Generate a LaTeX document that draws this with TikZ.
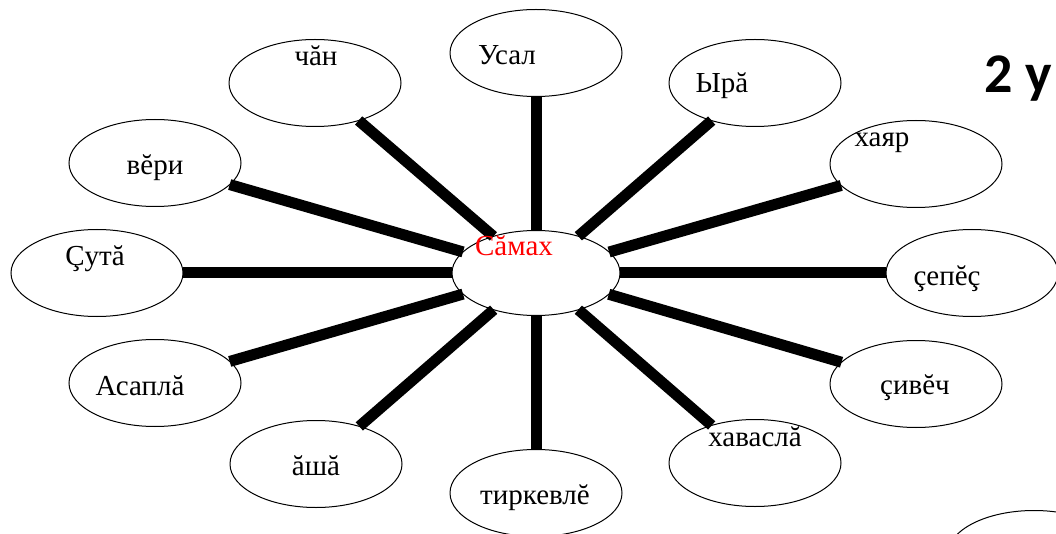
\documentclass[tikz,border=0pt]{standalone}
\usepackage{fontspec}
\setmainfont{Liberation Serif}
\newfontfamily\headfont{Carlito}
\usetikzlibrary{calc}
\usetikzlibrary{shapes.geometric}
\definecolor{wordred}{HTML}{FF0000}

\begin{document}
\begin{tikzpicture}[x=1pt,y=-1pt,
oval/.style = {ellipse, draw, line width=1pt, fill=white,
  minimum width=172pt, minimum height=87pt, inner sep=0pt, outer sep=0pt},
hub/.style = {oval, minimum width=168pt, minimum height=85pt},
word/.style = {anchor=base, inner sep=0pt, font=\fontsize{29}{32}\selectfont},
spoke/.style = {line width=11pt, color=black}
]
\useasboundingbox (0,0) rectangle (1056,534);
\clip (0,0) rectangle (1056,534);

\coordinate (c) at (536,273);
\node [hub] (samah) at (c) {};

\node [oval] (usal) at ($ (c) + (0,-220) $) {};
\node [oval] (yra) at ($ (c) + (219,-190) $) {};
\node [oval] (hayar) at ($ (c) + (380,-109) $) {};
\node [oval] (sepes) at ($ (c) + (436,0) $) {};
\node [oval] (sivech) at ($ (c) + (380,111) $) {};
\node [oval] (havasla) at ($ (c) + (219,190) $) {};
\node [oval] (tirkevle) at ($ (c) + (0,220) $) {};
\node [oval] (asha) at ($ (c) + (-220,191) $) {};
\node [oval] (asapla) at ($ (c) + (-381,110) $) {};
\node [oval] (suta) at ($ (c) + (-439,0) $) {};
\node [oval] (veri) at ($ (c) + (-381,-110) $) {};
\node [oval] (chan) at ($ (c) + (-221,-190) $) {};
\node [oval] (spare) at (1034,554) {};

\draw [spoke] (samah) -- (usal);
\draw [spoke] (samah) -- (yra);
\draw [spoke] (samah) -- (hayar);
\draw [spoke] (samah) -- (sepes);
\draw [spoke] (samah) -- (sivech);
\draw [spoke] (samah) -- (havasla);
\draw [spoke] (samah) -- (tirkevle);
\draw [spoke] (samah) -- (asha);
\draw [spoke] (samah) -- (asapla);
\draw [spoke] (samah) -- (suta);
\draw [spoke] (samah) -- (veri);
\draw [spoke] (samah) -- (chan);

% words
\node [word, text=wordred] (samah-t) at (514,256) {Сăмах};
\node [word] (usal-t) at (507,65) {Усал};
\node [word] (yra-t) at (722,93) {Ырă};
\node [word] (hayar-t) at (882,147) {хаяр};
\node [word] (sepes-t) at (947,285) {çепĕç};
\node [word] (sivech-t) at (915,394) {çивĕч};
\node [word] (havasla-t) at (755,446) {хаваслă};
\node [word] (tirkevle-t) at (535,504) {тиркевлĕ};
\node [word] (asha-t) at (316,475) {ăшă};
\node [word] (asapla-t) at (140,395) {Асаплă};
\node [word] (suta-t) at (95,266) {Çутă};
\node [word] (veri-t) at (155,175) {вĕри};
\node [word] (chan-t) at (316,66) {чăн};

\node [anchor=base west, inner sep=0pt, font=\headfont\bfseries\fontsize{56}{60}\selectfont] (title) at (984,93) {2 у};

\end{tikzpicture}
\end{document}
